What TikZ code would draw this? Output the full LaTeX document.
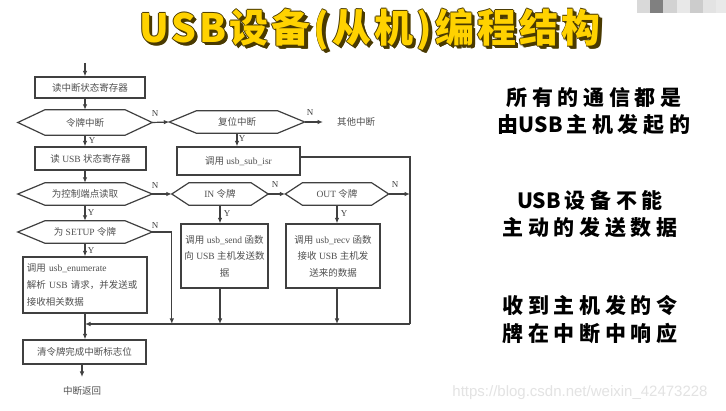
\documentclass[tikz,border=0pt]{standalone}
\usepackage{fontspec}
\setmainfont{Liberation Serif}
\newfontfamily\cjk{Noto Sans CJK SC}
\newfontfamily\cjkt{Noto Sans CJK SC}[LetterSpace=22]
\newfontfamily\cjkh{Noto Sans CJK SC}[LetterSpace=8]
\newfontfamily\wmfont{Liberation Sans}
\usetikzlibrary{arrows.meta,calc}
\newcommand\zh[1]{{\cjk #1}}
\newcommand\usbr{{\cjk USB}\kern4pt}
\definecolor{ln}{HTML}{404040}
\definecolor{tx}{HTML}{505050}
\definecolor{ttl}{HTML}{FFD200}
\definecolor{shd}{HTML}{4A3A00}
\newcommand\ttltext{USB设备(从机)编程结构}
\newcommand\shcopy[2]{\rlap{\color{shd}\kern#1pt\raisebox{#2pt}{\ttltext}}}
\newcommand\shadowed{\leavevmode\shcopy{-0.9}{0}\shcopy{0.9}{0}\shcopy{0}{0.9}\shcopy{0}{-0.9}\shcopy{1.8}{-1.8}\shcopy{2.6}{-2.6}\shcopy{3.2}{-3.2}{\color{ttl}\ttltext}}
\newcommand\hexdraw[2]{\draw[hexl] (#1.west) -- ([xshift=#2pt]#1.north west) -- ([xshift=-#2pt]#1.north east) -- (#1.east) -- ([xshift=-#2pt]#1.south east) -- ([xshift=#2pt]#1.south west) -- cycle;}
\tikzset{
  fc/.style={font=\fontsize{9.5}{12}\selectfont},
  box/.style={draw=ln, line width=1.2pt, inner sep=0pt, text=tx, fc, align=center},
  hexn/.style={inner sep=0pt, text=tx, fc},
  hexl/.style={draw=ln, line width=1.2pt, line join=miter},
  arr/.style={draw=ln, line width=1.2pt, -{Latex[length=5.5pt,width=4.5pt]}},
  lnk/.style={draw=ln, line width=1.2pt},
  yn/.style={text=ln, font=\fontsize{9}{10}\selectfont, inner sep=0pt},
  rt/.style={font=\cjkt\fontsize{21}{24}\selectfont\bfseries, text=black, inner sep=0pt},
  tt/.style={font=\cjkh\fontsize{39}{44}\selectfont\bfseries, inner sep=0pt},
}
\begin{document}
\begin{tikzpicture}[x=1pt,y=-1pt]
\useasboundingbox (0,0) rectangle (726,411);
\fill[white] (0,0) rectangle (726,411);
% mosaic
\fill[gray!30] (637,0) rectangle (650,13);
\fill[gray] (650,0) rectangle (663,13);
\fill[gray!35] (663,0) rectangle (677,13);
\fill[gray!18] (677,0) rectangle (690,13);
\fill[gray!40] (690,0) rectangle (703,13);
\fill[gray!22] (703,0) rectangle (716,13);
\fill[gray!17] (716,0) rectangle (726,13);
% title
\node[tt] (title) at (370,31) {\shadowed};
% flowchart
\coordinate (st) at (85,63);
\node[box, minimum width=110, minimum height=21] (b1) at (90,87.5) {\zh{读中断状态寄存器}};
\node[hexn, minimum width=134, minimum height=25] (h1) at (85,122.5) {\zh{令牌中断}};
\node[hexn, minimum width=135, minimum height=22] (h2) at (237,122) {\zh{复位中断}};
\node[hexn, anchor=west, inner xsep=14pt] (oth) at (323,122) {\zh{其他中断}};
\node[box, minimum width=111, minimum height=23] (b2) at (90.5,158.5) {\zh{读} USB \zh{状态寄存器}};
\node[box, minimum width=123, minimum height=28] (b3) at (238.5,161) {\zh{调用} usb\_sub\_isr};
\node[hexn, minimum width=134, minimum height=22] (h3) at (85,194) {\zh{为控制端点读取}};
\node[hexn, minimum width=96, minimum height=22] (h4) at (220,194) {IN \zh{令牌}};
\node[hexn, minimum width=103, minimum height=22] (h5) at (337,194) {OUT \zh{令牌}};
\node[hexn, minimum width=134, minimum height=22] (h6) at (85,232) {\zh{为} SETUP \zh{令牌}};
\node[box, minimum width=124, minimum height=56, text width=116pt, inner xsep=4pt, align=left, font=\fontsize{9.5}{17}\selectfont] (b4) at (85,285) {\zh{调用} usb\_enumerate\\\zh{解析} USB \zh{请求，并发送或}\\\zh{接收相关数据}};
\node[box, minimum width=87, minimum height=64, font=\fontsize{9.5}{16.5}\selectfont] (b5) at (224.5,256) {\zh{调用} usb\_send \zh{函数}\\\zh{向} USB \zh{主机发送数}\\\zh{据}};
\node[box, minimum width=94, minimum height=64, font=\fontsize{9.5}{16.5}\selectfont] (b6) at (333,256) {\zh{调用} usb\_recv \zh{函数}\\\zh{接收} USB \zh{主机发}\\\zh{送来的数据}};
\node[box, minimum width=123, minimum height=24] (b7) at (84.5,352) {\zh{清令牌完成中断标志位}};
\node[hexn, anchor=north, inner ysep=0pt] (ret) at (82,386) {\zh{中断返回}};
\coordinate (ret0) at (82,377);
\hexdraw{h1}{27}
\hexdraw{h2}{27}
\hexdraw{h3}{27}
\hexdraw{h4}{17}
\hexdraw{h5}{17}
\hexdraw{h6}{27}
\coordinate (rtop) at (410,157);
\coordinate (rbot) at (410,324);
\coordinate (mj) at (85,324);
% connectors
\draw[arr] (st) -- (st |- b1.north);
\draw[arr] (b1.south -| h1.north) -- (h1.north);
\draw[arr] (h1.east) -- (h2.west);
\draw[arr] (h2.east) -- (oth.west);
\draw[arr] (h2.south) -- (h2.south |- b3.north);
\draw[arr] (h1.south) -- (h1.south |- b2.north);
\draw[arr] (b2.south -| h3.north) -- (h3.north);
\draw[arr] (h3.east) -- (h4.west);
\draw[arr] (h4.east) -- (h5.west);
\draw[arr] (h5.east) -- (h5.east -| rtop);
\draw[lnk] ([yshift=4pt]b3.east) -- (rtop) -- (rbot);
\draw[arr] (rbot) -- (mj);
\draw[arr] (h3.south) -- (h6.north);
\draw[arr] (h6.south) -- (h6.south |- b4.north);
\draw[arr] (h6.east) -- (h6.east -| h4.west) -- (h4.west |- mj);
\draw[arr] (h4.south) -- (h4.south |- b5.north);
\draw[arr] (b5.south -| h4.south) -- (h4.south |- mj);
\draw[arr] (h5.south) -- (h5.south |- b6.north);
\draw[arr] (b6.south -| h5.south) -- (h5.south |- mj);
\draw[lnk] (b4.south -| mj) -- (mj);
\draw[arr] (mj) -- (mj |- b7.north);
\draw[arr] (b7.south -| ret0) -- (ret0);
% Y / N labels
\node[yn] (n1) at (155,114) {N};
\node[yn] (y1) at (92,141) {Y};
\node[yn] (n2) at (310,113) {N};
\node[yn] (y2) at (242,139) {Y};
\node[yn] (n3) at (155,186) {N};
\node[yn] (y3) at (91,213) {Y};
\node[yn] (n4) at (275,185) {N};
\node[yn] (y4) at (227,214) {Y};
\node[yn] (n5) at (395,185) {N};
\node[yn] (y5) at (344,214) {Y};
\node[yn] (n6) at (155,226) {N};
\node[yn] (y6) at (91,251) {Y};
% right notes
\node[rt] (r1) at (594,98) {所有的通信都是};
\node[rt] (r2) at (594,125) {由\usbr 主机发起的};
\node[rt] (r3) at (590,200) {\usbr 设备不能};
\node[rt] (r4) at (590,228) {主动的发送数据};
\node[rt] (r5) at (590,305) {收到主机发的令};
\node[rt] (r6) at (590,333) {牌在中断中响应};
% watermark
\node[inner sep=0pt, text=gray!22, font=\wmfont\fontsize{15}{17}\selectfont] (wm) at (580,393) {https://blog.csdn.net/weixin\_42473228};
\end{tikzpicture}
\end{document}
